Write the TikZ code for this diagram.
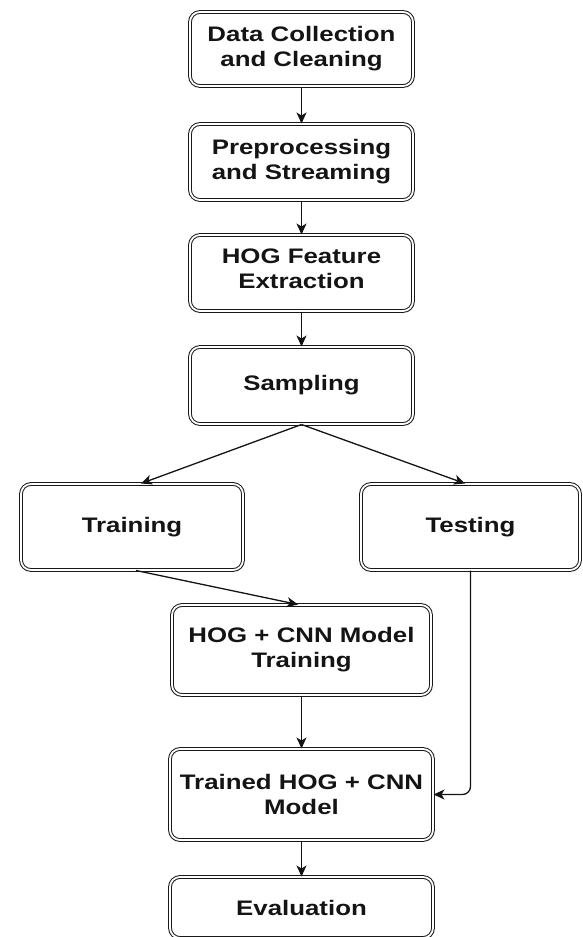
\documentclass[tikz,border=0pt]{standalone}
\usepackage{fontspec}
\newfontfamily\boxfont[FakeStretch=1.23]{Liberation Sans}
\usetikzlibrary{arrows.meta,calc}
\begin{document}
\begin{tikzpicture}[x=1pt,y=-1pt,
  boxshape/.style={draw=black!90, double, double distance=1.8pt, line width=1pt,
    rounded corners=10pt, align=center, inner sep=0pt,
    font=\boxfont\bfseries\fontsize{21}{25}\selectfont, text=black!92},
  boxtext/.style={align=center, inner sep=0pt,
    font=\boxfont\bfseries\fontsize{21}{25}\selectfont, text=black!92},
  arr/.style={draw=black!92, line width=1.3pt, -{Stealth[length=11pt,width=10pt,inset=3pt]}}
]
\useasboundingbox (0,0) rectangle (583,937);
% top column boxes (outer size minus stroke)
\node[boxshape, minimum width=223pt, minimum height=74pt] (b1) at (301.5,49) {Data Collection\\and Cleaning};
\node[boxshape, minimum width=223pt, minimum height=76pt] (b2) at (301.5,162) {Preprocessing\\and Streaming};
\node[boxshape, minimum width=223pt, minimum height=76pt] (b3) at (301.5,273) {};
\node[boxtext] (b3t) at (301.5,268.5) {HOG Feature\\Extraction};
\node[boxshape, minimum width=223pt, minimum height=77pt] (b4) at (301.5,385.5) {Sampling};
% split
\node[boxshape, minimum width=222pt, minimum height=86pt] (train) at (132,527) {Training};
\node[boxshape, minimum width=219pt, minimum height=86pt] (test) at (470.5,527) {Testing};
% lower column
\node[boxshape, minimum width=259pt, minimum height=90pt] (hog) at (301.5,650) {HOG + CNN Model\\Training};
\node[boxshape, minimum width=263pt, minimum height=91pt] (trained) at (301.5,794.5) {Trained HOG + CNN\\Model};
\node[boxshape, minimum width=263pt, minimum height=61pt] (eval) at (301.5,907.5) {Evaluation};
% connectors
\draw[arr] (b1) -- (b2);
\draw[arr] (b2) -- (b3);
\draw[arr] (b3) -- (b4);
\draw[arr] (b4.south) -- ([xshift=9pt]train.north);
\draw[arr] (b4.south) -- ([xshift=-5.5pt]test.north);
\draw[arr] ([xshift=4pt]train.south) -- ([xshift=-3.5pt]hog.north);
\draw[arr] (hog) -- (trained);
\draw[arr] (trained) -- (eval);
\draw[arr, rounded corners=8pt] (test.south) |- (trained.east);
\end{tikzpicture}
\end{document}
